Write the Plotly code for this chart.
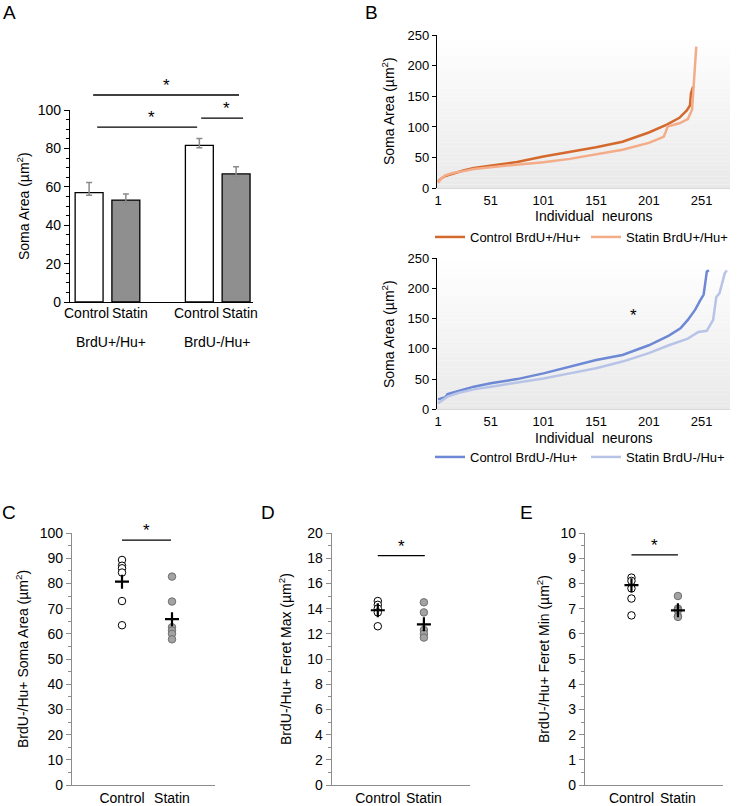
import plotly.graph_objects as go

W, H = 737, 806
FONT = "Liberation Sans, Arial, sans-serif"

# ---------------- Data ----------------
# Panel A
a_groups = ["BrdU+/Hu+", "BrdU-/Hu+"]
a_treat = ["Control", "Statin"]
a_ctrl_mean = [57.0, 81.6]
a_stat_mean = [53.1, 66.7]
a_ctrl_err_up = [5.3, 3.6]
a_ctrl_err_dn = [1.4, 1.2]
a_stat_err_up = [3.1, 3.8]
a_stat_err_dn = [1.4, 1.4]

# Panel B (sorted soma areas per neuron; sampled readings)
b_ctrl_pos_n = [1, 4, 8, 15, 25, 35, 51, 76, 101, 126, 151, 176, 201, 218, 230, 237, 240, 241, 243]
b_ctrl_pos_v = [11, 16, 20, 24, 29, 33, 37, 43, 52, 59, 67, 76, 91, 104, 115, 127, 135, 155, 166]
b_stat_pos_n = [1, 4, 8, 15, 25, 35, 51, 76, 101, 126, 151, 176, 201, 215, 217, 219, 230, 238, 242, 244, 246]
b_stat_pos_v = [9, 16, 21, 25, 28, 31.5, 34.5, 38.5, 42.5, 48, 55, 63, 74, 84, 92, 101, 106, 113, 128, 180, 231]
b_ctrl_neg_n = [1, 5, 8, 10, 20, 35, 51, 76, 101, 126, 151, 176, 201, 220, 231, 238, 245, 250, 253, 255, 256, 258]
b_ctrl_neg_v = [16.5, 18, 20, 25, 30, 37.5, 43, 50, 59.5, 70.5, 81.5, 90, 106, 122, 134, 148, 165, 181, 190, 215, 228, 230]
b_stat_neg_n = [1, 5, 10, 20, 35, 51, 76, 101, 126, 151, 176, 201, 220, 238, 248, 256, 262, 265, 268, 271, 273, 275]
b_stat_neg_v = [10, 15, 21, 27, 33, 37.5, 44, 51, 59.5, 68, 79, 93, 106, 117, 128, 130, 148, 186, 192, 214, 225, 230]
b_xticks = [1, 51, 101, 151, 201, 251]

# Panels C, D, E (per-animal values and means)
c_ctrl = [89.3, 87.0, 86.0, 84.3, 73.0, 63.4]
c_stat = [82.7, 72.8, 62.6, 61.3, 60.0, 57.8]
c_means = [80.7, 65.8]
d_ctrl = [14.6, 14.3, 14.0, 13.7, 12.6]
d_stat = [14.5, 13.7, 12.3, 12.0, 11.7]
d_means = [13.87, 12.75]
e_ctrl = [8.23, 8.1, 7.8, 7.4, 6.73]
e_stat = [7.5, 7.0, 6.93, 6.7, 6.67]
e_means = [7.93, 6.93]

# ---------------- helpers ----------------
def px(x):
    return x / W

def py(y):
    return 1 - y / H

def to_paper(dom, rng, v):
    return dom[0] + (v - rng[0]) / (rng[1] - rng[0]) * (dom[1] - dom[0])

fig = go.Figure()
shapes = []
annotations = []
FS = 14
tickf = dict(size=FS, color="black", family=FONT)
tickf_b = dict(size=13, color="black", family=FONT)

def note(text, x, y, xref="paper", yref="paper", size=FS, **kw):
    d = dict(text=text, x=x, y=y, xref=xref, yref=yref, showarrow=False,
             xanchor=kw.pop("xanchor", "center"), yanchor=kw.pop("yanchor", "middle"),
             font=dict(size=size, color="black", family=FONT))
    d.update(kw)
    annotations.append(d)

# ---------------- Panel A ----------------
a_x_ctrl = [g * 3 for g in range(len(a_groups))]
a_x_stat = [g * 3 + 1 for g in range(len(a_groups))]
A_YDOM = [py(302), py(110)]
A_YRNG = [0, 100]
fig.add_trace(go.Bar(x=a_x_ctrl, y=a_ctrl_mean, width=0.76, marker=dict(color="white", line=dict(color="black", width=1.3)),
                     error_y=dict(type="data", symmetric=False, array=a_ctrl_err_up, arrayminus=a_ctrl_err_dn,
                                  color="#8a8a8a", thickness=1.5, width=3),
                     xaxis="x", yaxis="y", showlegend=False))
fig.add_trace(go.Bar(x=a_x_stat, y=a_stat_mean, width=0.76, marker=dict(color="#8f8f8f", line=dict(color="black", width=1.3)),
                     error_y=dict(type="data", symmetric=False, array=a_stat_err_up, arrayminus=a_stat_err_dn,
                                  color="#8a8a8a", thickness=1.5, width=3),
                     xaxis="x", yaxis="y", showlegend=False))

a_sig = [  # x0, x1, y (data units), star_x
    (0.11, 4.08, 107.8, 2.1),
    (0.22, 2.94, 91.1, 1.71),
    (3.05, 4.19, 95.8, 3.73),
]
for x0, x1, yv, sx in a_sig:
    yp = to_paper(A_YDOM, A_YRNG, yv)
    shapes.append(dict(type="line", xref="x", yref="paper", x0=x0, x1=x1, y0=yp, y1=yp,
                       line=dict(color="black", width=1.3)))
    note("*", sx, yp, xref="x", size=17, yanchor="bottom", yshift=-2)

# category labels (Control / Statin) and group labels
for g, name in enumerate(a_groups):
    note(a_treat[0], a_x_ctrl[g], py(313), xref="x", xshift=-3)
    note(a_treat[1], a_x_stat[g], py(313), xref="x", xshift=4)
    note(name, g * 3 + 0.5, py(342), xref="x", xshift=4 if g == 0 else 0)

# ---------------- Panel B ----------------
B_X_DOM = [px(437), px(730)]
B_X_RNG = [0, 278]
B_TOP_YDOM = [py(188.3), py(35)]
B_BOT_YDOM = [py(409.3), py(258.3)]

fig.add_trace(go.Scatter(x=b_ctrl_pos_n, y=b_ctrl_pos_v, mode="lines", name="Control BrdU+/Hu+",
                         line=dict(color="#d4692d", width=2.5), xaxis="x2", yaxis="y2", legend="legend"))
fig.add_trace(go.Scatter(x=b_stat_pos_n, y=b_stat_pos_v, mode="lines", name="Statin BrdU+/Hu+",
                         line=dict(color="#f3ab88", width=2.5), xaxis="x2", yaxis="y2", legend="legend2"))
fig.add_trace(go.Scatter(x=b_ctrl_neg_n, y=b_ctrl_neg_v, mode="lines", name="Control BrdU-/Hu+",
                         line=dict(color="#6d88d4", width=2.5), xaxis="x3", yaxis="y3", legend="legend3"))
fig.add_trace(go.Scatter(x=b_stat_neg_n, y=b_stat_neg_v, mode="lines", name="Statin BrdU-/Hu+",
                         line=dict(color="#b8c4e7", width=2.5), xaxis="x3", yaxis="y3", legend="legend4"))

# gradient plot-area background (style only)
NB = 40
for ax in ("2", "3"):
    for i in range(NB):
        c = int(round(255 - (255 - 233) * (i + 0.5) / NB))
        shapes.append(dict(type="rect", xref="x%s domain" % ax, yref="y%s domain" % ax,
                           x0=0, x1=1, y0=1 - (i + 1) / NB, y1=1 - i / NB, layer="below",
                           fillcolor="rgb(%d,%d,%d)" % (c, c, c), line=dict(width=0)))

note("*", 186.5, to_paper(B_BOT_YDOM, [0, 250], 161), xref="x3", size=17, yshift=-3)
for yy in (216, 438):
    note("Individual\u00a0 neurons", px(594), py(yy))

# ---------------- Panels C, D, E ----------------
CDE_YDOM = [py(785), py(533)]
cde = [
    ("4", [px(72), px(215)], [-1, 1.86], [0, 100], 10, 5, c_ctrl, c_stat, c_means, (0, 0.98, 97.2)),
    ("5", [px(331.7), px(470)], [-1, 2.0], [0, 20], 2, 1, d_ctrl, d_stat, d_means, (0, 1.02, 18.2)),
    ("6", [px(585), px(723)], [-1, 1.97], [0, 10], 1, 0.5, e_ctrl, e_stat, e_means, (0, 1.0, 9.13)),
]
for ax, xdom, xr, yr, dt, mdt, ctrl, stat, means, sig in cde:
    fig.add_trace(go.Scatter(x=[0] * len(ctrl), y=ctrl, mode="markers", showlegend=False,
                             marker=dict(symbol="circle", size=7.5, color="white", line=dict(color="black", width=1)),
                             xaxis="x" + ax, yaxis="y" + ax, cliponaxis=False))
    fig.add_trace(go.Scatter(x=[1] * len(stat), y=stat, mode="markers", showlegend=False,
                             marker=dict(symbol="circle", size=7.5, color="#a3a3a3", line=dict(color="#6e6e6e", width=1)),
                             xaxis="x" + ax, yaxis="y" + ax, cliponaxis=False))
    fig.add_trace(go.Scatter(x=[0, 1], y=means, mode="markers", showlegend=False,
                             marker=dict(symbol="cross-thin", size=10, line=dict(color="black", width=2.2)),
                             xaxis="x" + ax, yaxis="y" + ax, cliponaxis=False))
    x0, x1, yv = sig
    yp = to_paper(CDE_YDOM, yr, yv)
    shapes.append(dict(type="line", xref="x" + ax, yref="paper", x0=x0, x1=x1, y0=yp, y1=yp,
                       line=dict(color="black", width=1.3)))
    note("*", (x0 + x1) / 2, yp, xref="x" + ax, size=17, yanchor="bottom", yshift=-2)
    fig.update_layout(**{
        "xaxis" + ax: dict(domain=xdom, range=xr, anchor="y" + ax, showline=True, linecolor="#8c8c8c", linewidth=1.2,
                          tickvals=[0, 1], ticktext=["Control", "Statin"], ticks="", showgrid=False, zeroline=False,
                          tickangle=0, tickfont=tickf, automargin=False),
        "yaxis" + ax: dict(domain=CDE_YDOM, range=yr, anchor="x" + ax, showline=True, linecolor="#8c8c8c", linewidth=1.2,
                          dtick=dt, ticks="outside", ticklen=5, tickcolor="#8c8c8c", showgrid=False, zeroline=False,
                          minor=dict(dtick=mdt, ticks="outside", ticklen=3, tickcolor="#8c8c8c", showgrid=False),
                          tickfont=tickf, automargin=False),
    })

# y-axis titles
ytitles = [
    ("Soma Area (µm<sup>2</sup>)", 23, 206),
    ("Soma Area (µm<sup>2</sup>)", 388, 111),
    ("Soma Area (µm<sup>2</sup>)", 388, 334),
    ("BrdU-/Hu+ Soma Area (µm<sup>2</sup>)", 22, 659),
    ("BrdU-/Hu+ Feret Max (µm<sup>2</sup>)", 285, 659),
    ("BrdU-/Hu+ Feret Min (µm<sup>2</sup>)", 543, 659),
]
for t, xx, yy in ytitles:
    note(t, px(xx), py(yy), textangle=-90)

# panel letters
for t, xx, yy in [("A", 9, 12), ("B", 371, 12), ("C", 9, 512), ("D", 268, 512), ("E", 526, 512)]:
    note(t, px(xx), py(yy), size=19)

def leg(x, y):
    return dict(orientation="h", x=px(x), y=py(y), xanchor="left", yanchor="middle",
                bgcolor="rgba(0,0,0,0)", font=dict(size=13, color="black", family=FONT))

fig.update_layout(
    width=W, height=H, autosize=False,
    margin=dict(l=0, r=0, t=0, b=0, autoexpand=False),
    paper_bgcolor="white", plot_bgcolor="white",
    font=dict(family=FONT, color="black"),
    barmode="overlay",
    xaxis=dict(domain=[px(70), px(253)], range=[-0.52, 4.46], anchor="y", showline=True, linecolor="black",
               linewidth=1.2, showticklabels=False, ticks="", showgrid=False, zeroline=False, automargin=False),
    yaxis=dict(domain=A_YDOM, range=A_YRNG, anchor="x", showline=True, linecolor="black", linewidth=1.2,
               dtick=20, ticks="outside", ticklen=5, tickcolor="black", showgrid=False, zeroline=False,
               minor=dict(dtick=5, ticks="outside", ticklen=3, tickcolor="black", showgrid=False),
               tickfont=tickf, automargin=False),
    xaxis2=dict(domain=B_X_DOM, range=B_X_RNG, anchor="y2", showline=True, linecolor="#d9d9d9", linewidth=1,
                tickvals=b_xticks, ticks="", showgrid=False, zeroline=False, tickangle=0, tickfont=tickf_b,
                automargin=False),
    yaxis2=dict(domain=B_TOP_YDOM, range=[0, 250], anchor="x2", showline=True, linecolor="black", linewidth=1.2,
                dtick=50, ticks="outside", ticklen=4, tickcolor="black", showgrid=False, zeroline=False,
                tickfont=tickf_b, automargin=False),
    xaxis3=dict(domain=B_X_DOM, range=B_X_RNG, anchor="y3", showline=True, linecolor="#d9d9d9", linewidth=1,
                tickvals=b_xticks, ticks="", showgrid=False, zeroline=False, tickangle=0, tickfont=tickf_b,
                automargin=False),
    yaxis3=dict(domain=B_BOT_YDOM, range=[0, 250], anchor="x3", showline=True, linecolor="black", linewidth=1.2,
                dtick=50, ticks="outside", ticklen=4, tickcolor="black", showgrid=False, zeroline=False,
                tickfont=tickf_b, automargin=False),
    legend=leg(430, 237),
    legend2=leg(586, 237),
    legend3=leg(430, 457),
    legend4=leg(586, 457),
    shapes=shapes,
    annotations=annotations,
)

fig.write_html("out.html")
